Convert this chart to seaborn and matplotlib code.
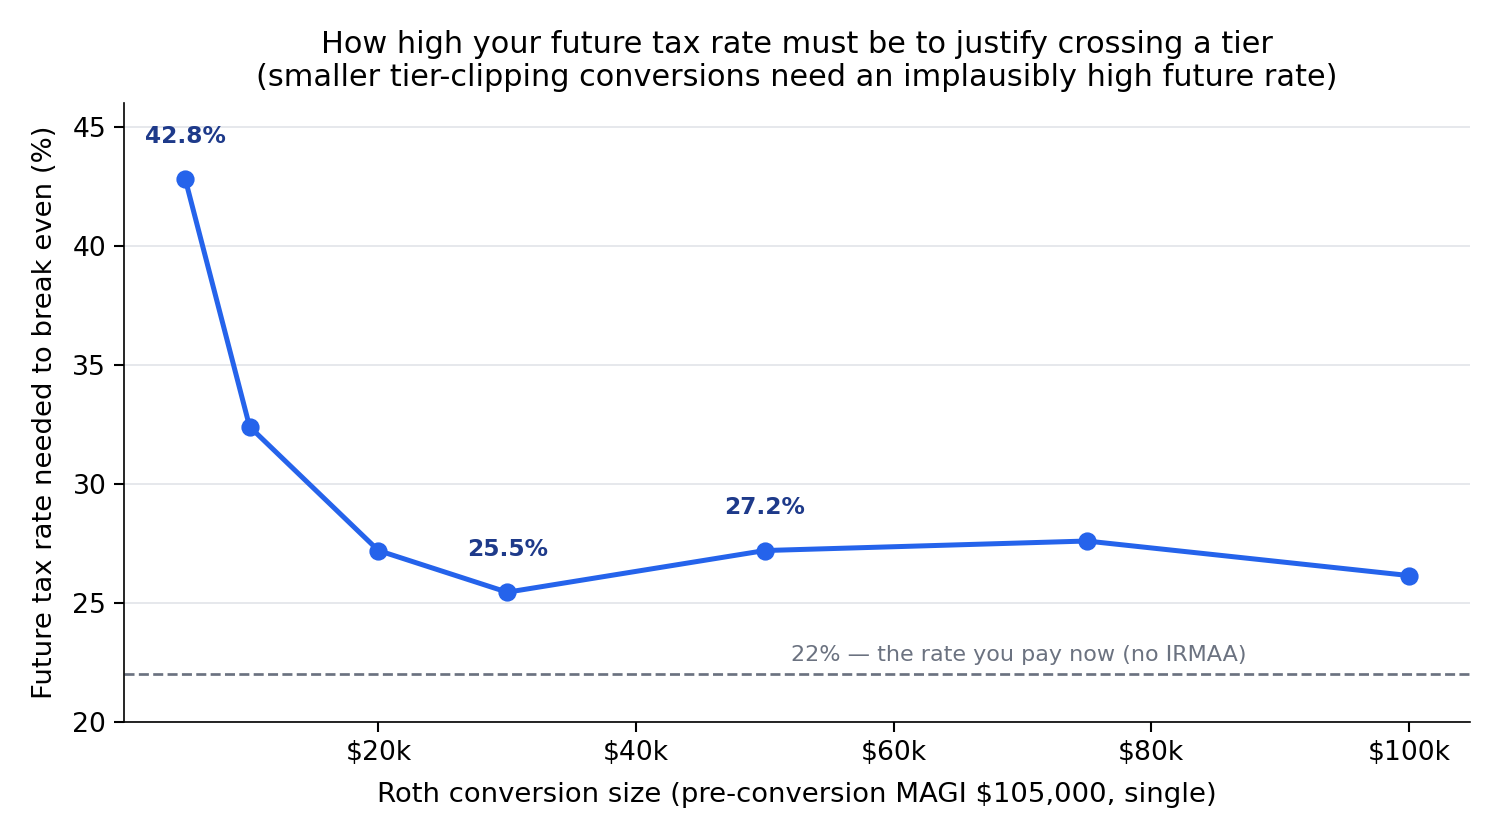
import numpy as np
import pandas as pd

import matplotlib
matplotlib.use("Agg")
import matplotlib.pyplot as plt
import seaborn as sns

conversion_size = [5000, 10000, 20000, 30000, 50000, 75000, 100000]
breakeven_rate = [42.8, 32.4, 27.2, 25.45, 27.2, 27.6, 26.15]
labelled_points = [0, 3, 4]
label_text = ["42.8%", "25.5%", "27.2%"]
current_rate = 22
tick_values = [20000, 40000, 60000, 80000, 100000]
tick_labels = ["$20k", "$40k", "$60k", "$80k", "$100k"]

LINE_BLUE = "#2563eb"
LABEL_NAVY = "#1e3a8a"
GREY = "#6b7280"


def plot_breakeven():
    df = pd.DataFrame({"size": conversion_size, "rate": breakeven_rate})

    sns.set_style("ticks", {"axes.edgecolor": "black", "text.color": "black",
                            "axes.labelcolor": "black", "xtick.color": "black",
                            "ytick.color": "black"})
    plt.rcParams["font.family"] = ["DejaVu Sans"]

    fig = plt.figure(figsize=(10, 5.6), dpi=150)
    ax = fig.add_axes([0.0827, 0.1405, 0.8973, 0.737])

    sns.lineplot(x="size", y="rate", data=df, ax=ax, color=LINE_BLUE,
                 linewidth=2.4, marker="o", markersize=8,
                 markeredgecolor=LINE_BLUE, zorder=3)

    for i, txt in zip(labelled_points, label_text):
        ax.annotate(txt, (conversion_size[i], breakeven_rate[i]),
                    xytext=(0, 15), textcoords="offset points", ha="center", va="bottom",
                    fontsize=11.2, fontweight="bold", color=LABEL_NAVY)

    ax.axhline(current_rate, color=GREY, linestyle="--", linewidth=1.3, zorder=2)
    ax.text(52000, current_rate + 0.4, "22% \u2014 the rate you pay now (no IRMAA)",
            color=GREY, fontsize=10.7, ha="left", va="bottom")

    ax.set_ylim(20, 46)
    ax.set_xticks(tick_values)
    ax.set_xticklabels(tick_labels)
    ax.tick_params(labelsize=12.8, length=5, width=1)
    ax.yaxis.grid(True, color="#e5e7eb", linewidth=0.9)
    ax.set_axisbelow(True)
    sns.despine(ax=ax)

    ax.set_xlabel("Roth conversion size (pre-conversion MAGI $105,000, single)",
                  fontsize=13.2, labelpad=8)
    ax.set_ylabel("Future tax rate needed to break even (%)", fontsize=13.2, labelpad=7)
    ax.set_title("How high your future tax rate must be to justify crossing a tier\n"
                 "(smaller tier-clipping conversions need an implausibly high future rate)",
                 fontsize=14.6, pad=8)

    fig.savefig("out.png", dpi=150)


def main():
    plot_breakeven()


if __name__ == "__main__":
    main()
